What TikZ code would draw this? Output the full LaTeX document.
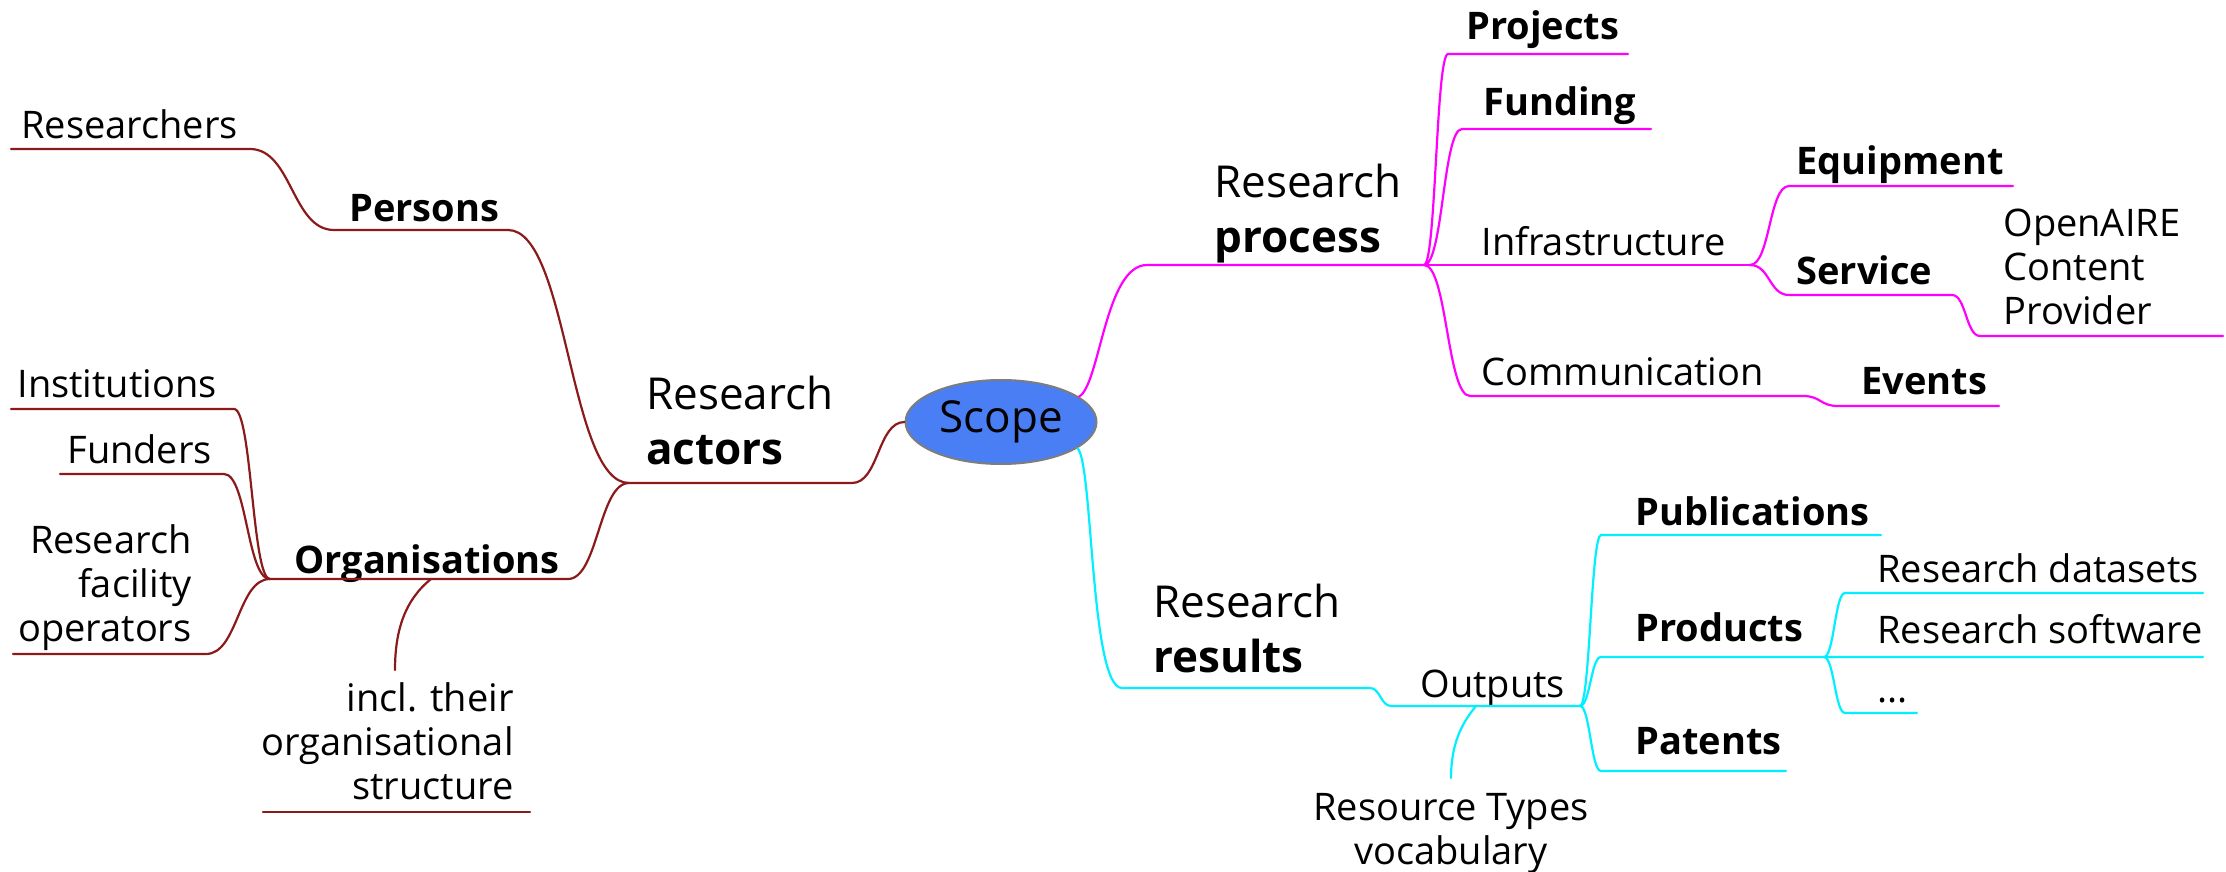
\documentclass[tikz,border=0pt]{standalone}
\usepackage{fontspec}
\setmainfont{Open Sans}
\usetikzlibrary{shapes.geometric}
\definecolor{brn}{RGB}{139,26,26}
\definecolor{mag}{RGB}{255,0,255}
\definecolor{cya}{RGB}{0,240,255}
\definecolor{scopefill}{RGB}{74,126,245}
\definecolor{scopeedge}{RGB}{125,125,125}
\newcommand\nf{\fontsize{19}{22}\selectfont}
\newcommand\lf{\fontsize{22}{27.5}\selectfont}
\begin{document}
\begin{tikzpicture}[x=0.5pt,y=-0.5pt,
  txt/.style={inner sep=0pt, font=\nf, anchor=base west},
  btxt/.style={inner sep=0pt, font=\nf\bfseries, anchor=base west},
  mtxt/.style={inner sep=0pt, font=\nf},
  ltxt/.style={inner sep=0pt, font=\lf, anchor=west, align=left},
  ln/.style={line width=1.1pt, line cap=round},
  bl/.style={ln, draw=brn},
  ml/.style={ln, draw=mag},
  cl/.style={ln, draw=cya},
  sc/.style={out=0,in=180,out distance=#1,in distance=#1}]
\useasboundingbox (0,0) rectangle (2226,872);

% central node
\node[ellipse, draw=scopeedge, line width=1pt, fill=scopefill, minimum width=95.5pt,
      minimum height=42pt, inner sep=0pt, font=\lf] (scope) at (1001,422) {Scope};

% ---------- left: research actors ----------
\node[txt]  (researchers) at (21,139) {Researchers};
\node[btxt] (persons) at (349,221) {Persons};
\node[ltxt] (actors) at (646,420) {Research\\\textbf{actors}};
\node[btxt] (organisations) at (294,573) {Organisations};
\node[txt]  (institutions) at (17,397) {Institutions};
\node[txt]  (funders) at (67,463) {Funders};
\node[mtxt, align=right, anchor=east] (rfo) at (192,588) {Research\\facility\\operators};
\node[mtxt, align=right, anchor=east] (incl) at (514,741) {incl. their\\organisational\\structure};

\coordinate (re0) at (11,149);  \coordinate (re1) at (250,149);
\coordinate (pe0) at (334,230); \coordinate (pe1) at (508,230);
\coordinate (ja)  at (629,483); \coordinate (ja1) at (852,483);
\coordinate (jo)  at (270,579); \coordinate (or1) at (568,579);
\coordinate (in0) at (11,409);  \coordinate (in1) at (234,409);
\coordinate (fu0) at (60,474);  \coordinate (fu1) at (224,474);
\coordinate (rf0) at (13,654);  \coordinate (rf1) at (206,654);
\coordinate (ic0) at (431,579); \coordinate (ic1) at (395,670);
\coordinate (icu0) at (263,812); \coordinate (icu1) at (530,812);

\draw[bl] (re0) -- (re1) to[sc=21pt] (pe0) -- (pe1) to[sc=30pt] (ja);
\draw[bl] (in0) -- (in1) to[sc=9pt] (jo);
\draw[bl] (fu0) -- (fu1) to[sc=11.5pt] (jo);
\draw[bl] (rf0) -- (rf1) to[sc=16pt] (jo);
\draw[bl] (jo) -- (or1) to[sc=15pt] (ja);
\draw[bl] (ja) -- (ja1) to[sc=13.5pt] (scope.west);
\draw[bl] (ic0) .. controls (405,600) and (395,630) .. (ic1);
\draw[bl] (icu0) -- (icu1);

% ---------- right top: research process ----------
\node[ltxt] (process) at (1214,214) {Research\\\textbf{process}};
\node[btxt] (projects) at (1466,40) {Projects};
\node[btxt] (funding) at (1483,116) {Funding};
\node[txt]  (infrastructure) at (1481,255) {Infrastructure};
\node[txt]  (communication) at (1481,385) {Communication};
\node[btxt] (equipment) at (1796,174) {Equipment};
\node[btxt] (service) at (1796,284) {Service};
\node[mtxt, align=left, anchor=west] (openaire) at (2003,267) {OpenAIRE\\Content\\Provider};
\node[btxt] (events) at (1861,394) {Events};

\coordinate (pr0) at (1147,265); \coordinate (jp) at (1424,265);
\coordinate (pj0) at (1448,54);  \coordinate (pj1) at (1628,54);
\coordinate (fd0) at (1462,129); \coordinate (fd1) at (1651,129);
\coordinate (ji)  at (1750,265);
\coordinate (cm0) at (1470,396); \coordinate (cm1) at (1803,396);
\coordinate (eq0) at (1789,186); \coordinate (eq1) at (2013,186);
\coordinate (sv0) at (1789,295); \coordinate (sv1) at (1952,295);
\coordinate (oa0) at (1980,336); \coordinate (oa1) at (2223,336);
\coordinate (ev0) at (1838,406); \coordinate (ev1) at (1999,406);

\draw[ml] (scope.18) .. controls (1100,385) and (1105,265) .. (pr0) -- (jp);
\draw[ml] (jp) to[sc=6pt] (pj0) -- (pj1);
\draw[ml] (jp) to[sc=9.5pt] (fd0) -- (fd1);
\draw[ml] (jp) -- (ji);
\draw[ml] (jp) to[sc=11.5pt] (cm0) -- (cm1) to[sc=9pt] (ev0) -- (ev1);
\draw[ml] (ji) to[sc=10pt] (eq0) -- (eq1);
\draw[ml] (ji) to[sc=10pt] (sv0) -- (sv1) to[sc=7pt] (oa0) -- (oa1);

% ---------- right bottom: research results ----------
\node[ltxt] (results) at (1153,628) {Research\\\textbf{results}};
\node[txt]  (outputs) at (1420,697) {Outputs};
\node[btxt] (publications) at (1635,525) {Publications};
\node[btxt] (products) at (1635,641) {Products};
\node[btxt] (patents) at (1635,754) {Patents};
\node[txt]  (datasets) at (1877,582) {Research datasets};
\node[txt]  (software) at (1877,643) {Research software};
\node[txt]  (dots) at (1877,702) {...};
\node[mtxt, align=center] (restypes) at (1451,833) {Resource Types\\vocabulary};

\coordinate (rr0) at (1122,688); \coordinate (rr1) at (1370,688);
\coordinate (ou0) at (1391,706); \coordinate (jr) at (1580,706);
\coordinate (pb0) at (1601,535); \coordinate (pb1) at (1881,535);
\coordinate (pd0) at (1601,657); \coordinate (jd) at (1824,657); \coordinate (sw1) at (2203,657);
\coordinate (pt0) at (1601,771); \coordinate (pt1) at (1786,771);
\coordinate (ds0) at (1845,593); \coordinate (ds1) at (2203,593);
\coordinate (dt0) at (1845,713); \coordinate (dt1) at (1917,713);
\coordinate (rt0) at (1476,706); \coordinate (rt1) at (1451,778);

\draw[cl] (scope.-19) .. controls (1093,460) and (1090,688) .. (rr0) -- (rr1) to[sc=5pt] (ou0) -- (jr);
\draw[cl] (jr) to[sc=5pt] (pb0) -- (pb1);
\draw[cl] (jr) to[sc=5pt] (pd0) -- (jd) -- (sw1);
\draw[cl] (jr) to[sc=5pt] (pt0) -- (pt1);
\draw[cl] (jd) to[sc=5pt] (ds0) -- (ds1);
\draw[cl] (jd) to[sc=5pt] (dt0) -- (dt1);
\draw[cl] (rt0) .. controls (1461,724) and (1451,745) .. (rt1);
\end{tikzpicture}
\end{document}
